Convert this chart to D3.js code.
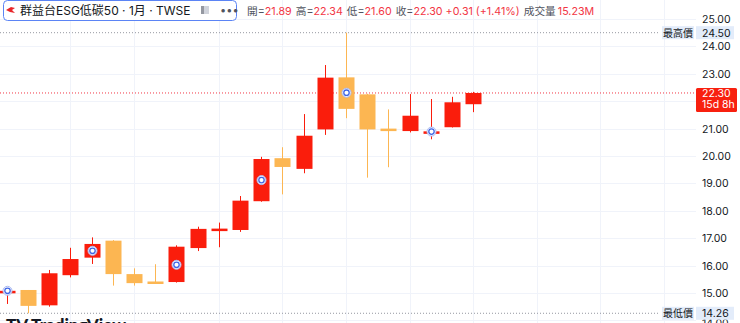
<!DOCTYPE html>
<html>
<head>
<meta charset="utf-8">
<script src="https://cdn.jsdelivr.net/npm/d3@7"></script>
<style>
  body { margin: 0; background: #ffffff; }
  svg { display: block; }
</style>
</head>
<body>
<div id="chart"></div>
<script>
// monthly candles
const opens  = [15.05, 15.11, 14.55, 15.65, 16.29, 16.91, 15.69, 15.42, 15.40, 16.64, 17.33, 17.30, 18.35, 19.92, 19.53, 20.97, 22.87, 22.25, 21.00, 20.91, 20.88, 21.05, 21.89];
const highs  = [15.10, 15.11, 15.84, 16.65, 17.03, 16.93, 15.90, 16.05, 16.74, 17.42, 17.57, 18.54, 19.97, 20.32, 21.53, 23.32, 24.50, 22.27, 21.70, 22.26, 22.08, 22.16, 22.34];
const lows   = [14.60, 14.26, 14.50, 15.57, 16.06, 15.27, 15.27, 15.33, 15.38, 16.53, 16.67, 17.23, 18.33, 18.60, 19.37, 20.77, 21.38, 19.21, 19.59, 20.86, 20.61, 21.04, 21.60];
const closes = [15.08, 14.53, 15.72, 16.24, 16.79, 15.69, 15.36, 15.34, 16.69, 17.34, 17.35, 18.37, 19.89, 19.60, 20.74, 22.86, 21.72, 20.97, 20.92, 21.47, 20.90, 21.96, 22.30];

// dividend style markers
const markerIdx   = [0, 4, 8, 12, 16, 20];
const markerPrice = [15.08, 16.54, 16.03, 19.12, 22.31, 20.89];

const priceTicks = [14, 15, 16, 17, 18, 19, 20, 21, 22, 23, 24, 25];
const timeGrid = [3, 6, 10, 13, 16, 19, 22, 25, 28, 31];

const hiPrice = 24.50, loPrice = 14.26, lastPrice = 22.30;
const title = "群益台ESG低碳50 · 1月 · TWSE";
const legendItems = [
  ["開=", "21.89"], ["高=", "22.34"], ["低=", "21.60"], ["收=", "22.30 +0.31 (+1.41%)"], ["成交量", "15.23M"]
];

const width = 740, height = 323, plotRight = 696;
const upColor = "#fa1d0c", downColor = "#fcb652";
const font = "Inter, 'Noto Sans CJK TC', sans-serif";

const svg = d3.select("#chart").append("svg")
  .attr("width", width).attr("height", height);

const x = d3.scaleLinear().domain([0, 22]).range([6.7, 473.1]);
const y = d3.scaleLinear().domain([15, 25]).range([293, 19]);

// grid
svg.append("g").selectAll("line").data(priceTicks).enter().append("line")
  .attr("x1", 0).attr("x2", plotRight)
  .attr("y1", d => Math.round(y(d)) + 0.5).attr("y2", d => Math.round(y(d)) + 0.5)
  .attr("stroke", "#f0f3fa");
svg.append("g").selectAll("line").data(timeGrid).enter().append("line")
  .attr("x1", d => Math.round(x(d)) + 0.5).attr("x2", d => Math.round(x(d)) + 0.5)
  .attr("y1", 0).attr("y2", height)
  .attr("stroke", "#f0f3fa");

// high / low / last price lines
svg.append("line").attr("x1", 0).attr("x2", 660)
  .attr("y1", y(hiPrice)).attr("y2", y(hiPrice))
  .attr("stroke", "#9598a1").attr("stroke-dasharray", "1,2");
svg.append("line").attr("x1", 0).attr("x2", 660)
  .attr("y1", y(loPrice)).attr("y2", y(loPrice))
  .attr("stroke", "#9598a1").attr("stroke-dasharray", "1,2");
svg.append("line").attr("x1", 0).attr("x2", plotRight)
  .attr("y1", y(lastPrice)).attr("y2", y(lastPrice))
  .attr("stroke", "#f23645").attr("stroke-dasharray", "1,2");

// candles
const candles = d3.range(opens.length).map(i => ({ i, o: opens[i], h: highs[i], l: lows[i], c: closes[i] }));
const bodyW = 16;
const cg = svg.append("g");
cg.selectAll("line").data(candles).enter().append("line")
  .attr("x1", d => Math.round(x(d.i)) + 0.5).attr("x2", d => Math.round(x(d.i)) + 0.5)
  .attr("y1", d => y(d.h)).attr("y2", d => y(d.l))
  .attr("stroke", d => d.c >= d.o ? upColor : downColor);
cg.selectAll("rect").data(candles).enter().append("rect")
  .attr("x", d => Math.round(x(d.i)) + 0.5 - bodyW / 2)
  .attr("width", bodyW)
  .attr("y", d => y(Math.max(d.o, d.c)))
  .attr("height", d => Math.max(2.5, Math.abs(y(d.o) - y(d.c))))
  .attr("fill", d => d.c >= d.o ? upColor : downColor);

// markers
const mg = svg.append("g");
markerIdx.forEach((k, j) => {
  const cx = Math.round(x(k)) + 0.5, cy = y(markerPrice[j]);
  mg.append("circle").attr("cx", cx).attr("cy", cy).attr("r", 4.5)
    .attr("fill", "#ffffff").attr("stroke", "#a9b9f2").attr("stroke-width", 1);
  mg.append("circle").attr("cx", cx).attr("cy", cy).attr("r", 2.7)
    .attr("fill", "none").attr("stroke", "#3f66e6").attr("stroke-width", 1.3);
});

// price axis (the tick under the last price tag is hidden)
svg.append("g").selectAll("text")
  .data(priceTicks.filter(d => Math.abs(y(d) - (y(lastPrice) + 7)) > 14))
  .enter().append("text")
  .attr("x", 702).attr("y", d => d === 14 ? 327 : y(d) + 4)
  .attr("font-family", font).attr("font-size", 10.5).attr("fill", "#131722")
  .text(d => d.toFixed(2));

// high / low labels
function sideLabel(price, name) {
  const cy = y(price);
  svg.append("rect").attr("x", 662).attr("y", cy - 6.5).attr("width", 32).attr("height", 13).attr("fill", "#e3ecfa");
  svg.append("rect").attr("x", 696).attr("y", cy - 6.5).attr("width", 38).attr("height", 13).attr("fill", "#e3ecfa");
  svg.append("text").attr("x", 678).attr("y", cy + 4).attr("text-anchor", "middle")
    .attr("font-family", font).attr("font-size", 10).attr("fill", "#131722").text(name);
  svg.append("text").attr("x", 702).attr("y", cy + 4)
    .attr("font-family", font).attr("font-size", 10.5).attr("fill", "#131722").text(price.toFixed(2));
}
sideLabel(hiPrice, "最高價");
sideLabel(loPrice, "最低價");

// last price tag
const ly = y(lastPrice);
svg.append("rect").attr("x", 696).attr("y", ly - 5).attr("width", 41).attr("height", 24).attr("rx", 1.5).attr("fill", "#f8200f");
svg.append("text").attr("x", 702).attr("y", ly + 4).attr("font-family", font).attr("font-size", 10.5)
  .attr("fill", "#ffffff").text(lastPrice.toFixed(2));
svg.append("text").attr("x", 702).attr("y", ly + 15.5).attr("font-family", font).attr("font-size", 10.5)
  .attr("fill", "#ffffff").text("15d 8h");

// header legend box
svg.append("rect").attr("x", 3.5).attr("y", 0.5).attr("width", 233).attr("height", 20).attr("rx", 4)
  .attr("fill", "#ffffff").attr("stroke", "#5b84f5");
svg.append("path").attr("d", "M6,10 L11,7 L15,8 L12,10 L15,13 L10,12 Z").attr("fill", "#e8262a");
svg.append("text").attr("x", 20).attr("y", 15).attr("font-family", font).attr("font-size", 12)
  .attr("fill", "#131722").text(title);
svg.append("rect").attr("x", 201).attr("y", 6).attr("width", 8).attr("height", 8).attr("fill", "#d1d4dc");
svg.append("rect").attr("x", 201).attr("y", 6).attr("width", 3).attr("height", 8).attr("fill", "#9598a1");
svg.append("text").attr("x", 220).attr("y", 14).attr("font-family", font).attr("font-size", 11)
  .attr("fill", "#50535e").text("•••");

const lt = svg.append("text").attr("x", 247).attr("y", 15).attr("font-family", font).attr("font-size", 10.7);
legendItems.forEach((d, k) => {
  lt.append("tspan").attr("dx", k === 0 ? 0 : 4).attr("fill", "#50535e").text(d[0]);
  lt.append("tspan").attr("dx", k === 4 ? 2 : 0).attr("fill", "#f23645").text(d[1]);
});

// watermark, mostly clipped
svg.append("text").attr("x", 6).attr("y", 331).attr("font-family", "Lato, sans-serif")
  .attr("font-weight", 900).attr("font-size", 17).attr("fill", "#131722").text("TV TradingView");
</script>
</body>
</html>
